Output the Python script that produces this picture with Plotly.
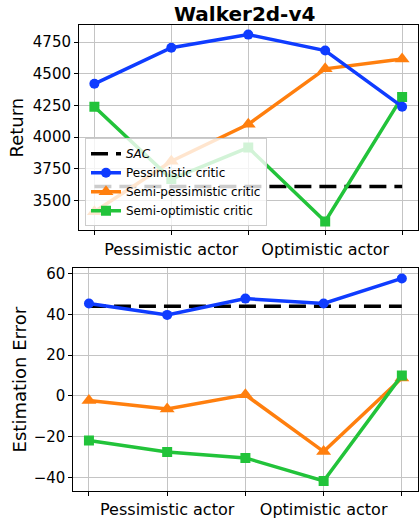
import plotly.graph_objects as go

# Walker2d-v4: return and value-estimation error per actor/critic configuration
x_pos = [0, 1, 2, 3, 4]
tick_text = ["", "Pessimistic actor", "", "Optimistic actor", ""]

sac_return = 3611
return_pess = [4421, 4706, 4809, 4683, 4241]
return_semi_pess = [3413, 3811, 4102, 4539, 4616]
return_semi_opt = [4241, 3670, 3919, 3336, 4318]

sac_error = 43.9
error_pess = [45.3, 39.7, 47.7, 45.3, 57.6]
error_semi_pess = [-2.3, -6.5, 0.5, -27.4, 8.7]
error_semi_opt = [-22.0, -27.6, -30.5, -41.8, 10.0]

return_ticks = [3500, 3750, 4000, 4250, 4500, 4750]
error_ticks = [-40, -20, 0, 20, 40, 60]

BLUE = "#0f3cff"
ORANGE = "#ff7f0e"
GREEN = "#22c33a"
FONT = "DejaVu Sans"

W, H = 419, 519

fig = go.Figure()

series = [
    ("Pessimistic critic", BLUE, "circle", 10),
    ("Semi-pessimistic critic", ORANGE, "triangle-up", 13),
    ("Semi-optimistic critic", GREEN, "square", 10),
]

top_vals = [return_pess, return_semi_pess, return_semi_opt]
bot_vals = [error_pess, error_semi_pess, error_semi_opt]

# SAC baseline (dashed)
fig.add_trace(go.Scatter(
    x=[x_pos[0], x_pos[-1]], y=[sac_return, sac_return], mode="lines",
    line=dict(color="black", width=3.5, dash="17px,8px"),
    name="<i>SAC</i>", xaxis="x", yaxis="y", legendrank=1,
))
fig.add_trace(go.Scatter(
    x=[x_pos[0], x_pos[-1]], y=[sac_error, sac_error], mode="lines",
    line=dict(color="black", width=3.5, dash="17px,8px"),
    showlegend=False, xaxis="x2", yaxis="y2",
))

draw_order = [1, 2, 0]
for i in draw_order:
    name, color, sym, size = series[i]
    fig.add_trace(go.Scatter(
        x=x_pos, y=top_vals[i], mode="lines+markers", name=name,
        line=dict(color=color, width=3.5),
        marker=dict(color=color, symbol=sym, size=size),
        xaxis="x", yaxis="y", legendrank=2 + i,
    ))
    fig.add_trace(go.Scatter(
        x=x_pos, y=bot_vals[i], mode="lines+markers", showlegend=False,
        line=dict(color=color, width=3.5),
        marker=dict(color=color, symbol=sym, size=size),
        xaxis="x2", yaxis="y2",
    ))

axis_common = dict(
    showline=True, linecolor="black", linewidth=1, mirror=True,
    showgrid=True, gridcolor="#c4c4c4", gridwidth=1,
    ticks="outside", ticklen=4, tickcolor="black", tickwidth=1,
    zeroline=False, tickfont=dict(family=FONT, size=15, color="black"),
)

xaxis_common = dict(
    axis_common, range=[-0.2, 4.2], tickmode="array",
    tickvals=x_pos, ticktext=tick_text,
    tickfont=dict(family=FONT, size=16, color="black"),
)

fig.update_layout(
    width=W, height=H,
    margin=dict(l=0, r=0, t=0, b=0),
    paper_bgcolor="white", plot_bgcolor="white",
    font=dict(family=FONT, color="black"),
    showlegend=True,
    xaxis=dict(xaxis_common, domain=[79 / W, 417.5 / W], anchor="y"),
    yaxis=dict(
        axis_common, domain=[1 - 232.3 / H, 1 - 22.3 / H], anchor="x",
        range=[3266, 4886], tickmode="array", tickvals=return_ticks,
        title=dict(text="Return", font=dict(family=FONT, size=18), standoff=4),
    ),
    xaxis2=dict(xaxis_common, domain=[73.3 / W, 417.5 / W], anchor="y2"),
    yaxis2=dict(
        axis_common, domain=[1 - 498.7 / H, 1 - 271 / H], anchor="x2",
        range=[-46.8, 62.6], tickmode="array", tickvals=error_ticks,
        title=dict(text="Estimation Error", font=dict(family=FONT, size=18), standoff=2),
    ),
    legend=dict(
        x=85 / W, y=1 - 228 / H, xanchor="left", yanchor="bottom",
        bgcolor="rgba(255,255,255,0.8)", bordercolor="#cccccc", borderwidth=1,
        font=dict(family=FONT, size=12, color="black"),
        tracegroupgap=0, itemwidth=30,
    ),
    annotations=[dict(
        text="<b>Walker2d-v4</b>", x=244 / W, y=1 - 11.5 / H,
        xref="paper", yref="paper", xanchor="center", yanchor="middle",
        showarrow=False, font=dict(family=FONT, size=20, color="black"),
    )],
)

fig.write_html("out.html")
